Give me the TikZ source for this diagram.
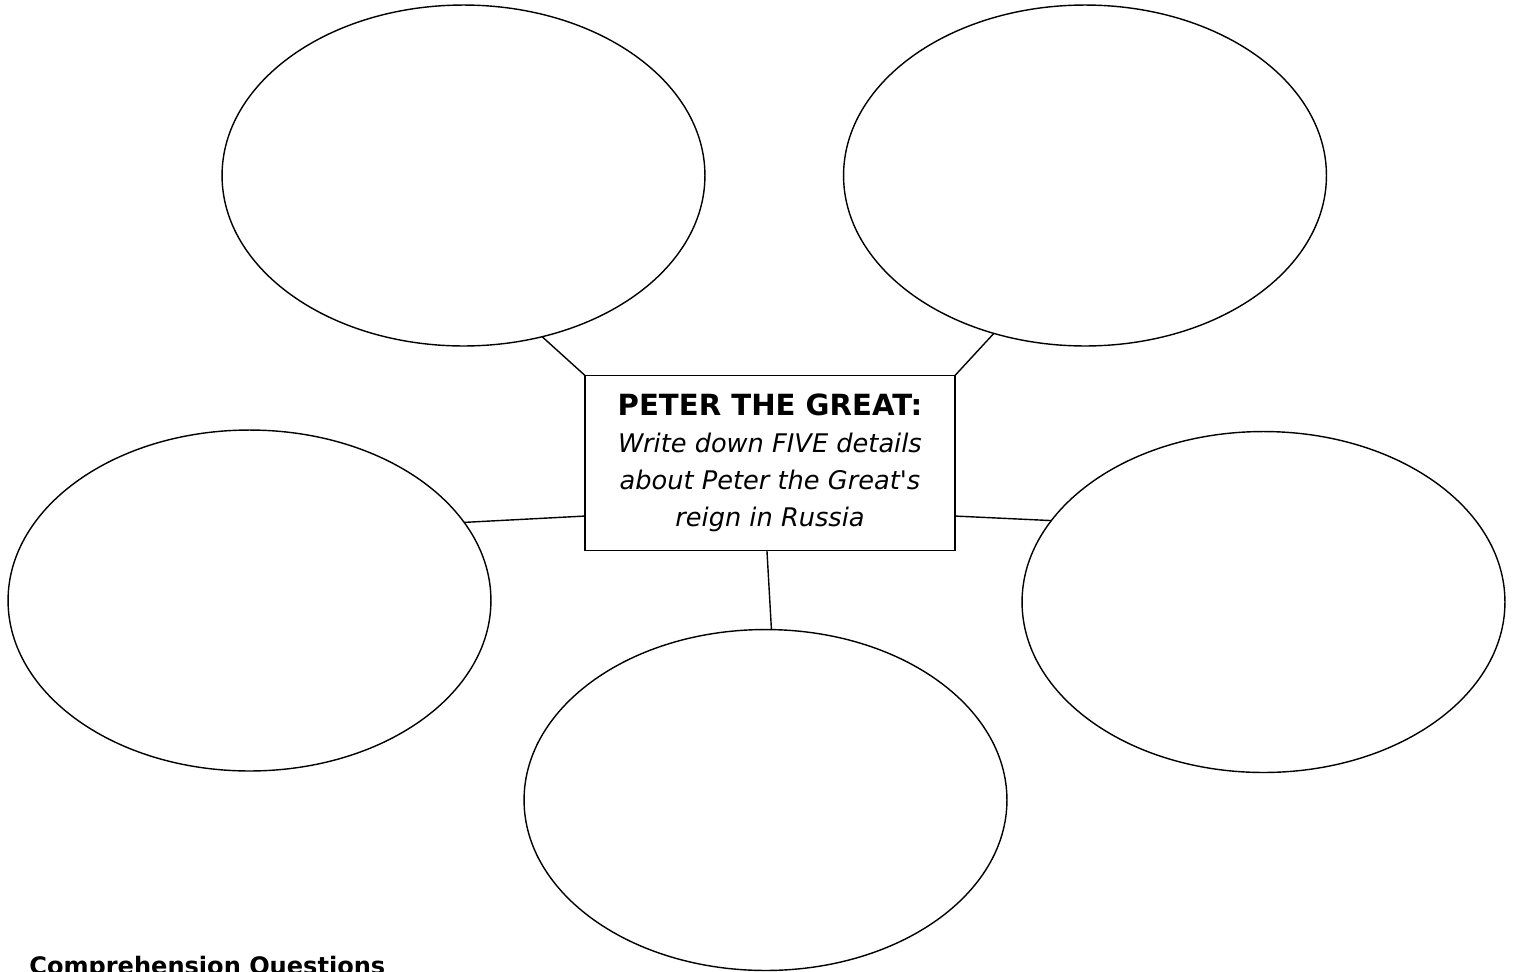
\documentclass[tikz,border=0pt]{standalone}
\usepackage{fontspec}
\setmainfont{DejaVu Sans}
\usetikzlibrary{shapes.geometric}
\tikzset{
  bubble/.style={ellipse,draw,line width=0.8pt,inner sep=0pt,outer sep=0pt,minimum width=9.66cm,minimum height=6.82cm},
  topic/.style={rectangle,draw,line width=1pt,align=center,inner sep=0pt,outer sep=0pt,minimum width=7.4cm,minimum height=3.5cm},
  link/.style={line width=0.8pt}
}

\begin{document}
\begin{tikzpicture}[x=0.02cm,y=-0.02cm]
\useasboundingbox (0,0) rectangle (1515,971);
\node[bubble] (tl) at (463.5,175.5) {};
\node[bubble] (tr) at (1085,175.5) {};
\node[bubble] (ml) at (249.5,600.5) {};
\node[bubble] (mr) at (1263.5,602) {};
\node[bubble] (bot) at (765.5,800) {};
\node[topic, font=\fontsize{14.6}{21}\selectfont] (peter) at (770,463)
  {{\bfseries\fontsize{16.6}{21}\selectfont PETER THE GREAT:}\\
   \itshape Write down FIVE details\\
   \itshape about Peter the Great\textquotesingle s\\
   \itshape reign in Russia};
\draw[link] (peter.north west) -- (tl.-64);
\draw[link] (peter.north east) -- (tr.-120);
\draw[link] (peter.196) -- (ml.20);
\draw[link] (peter.-16) -- (mr.159);
\draw[link] (peter.-92) -- (bot.88.8);
\node[anchor=base west, inner sep=0pt, font=\bfseries\fontsize{13.7}{15}\selectfont] (questions) at (29,974) {Comprehension Questions};
\end{tikzpicture}
\end{document}
